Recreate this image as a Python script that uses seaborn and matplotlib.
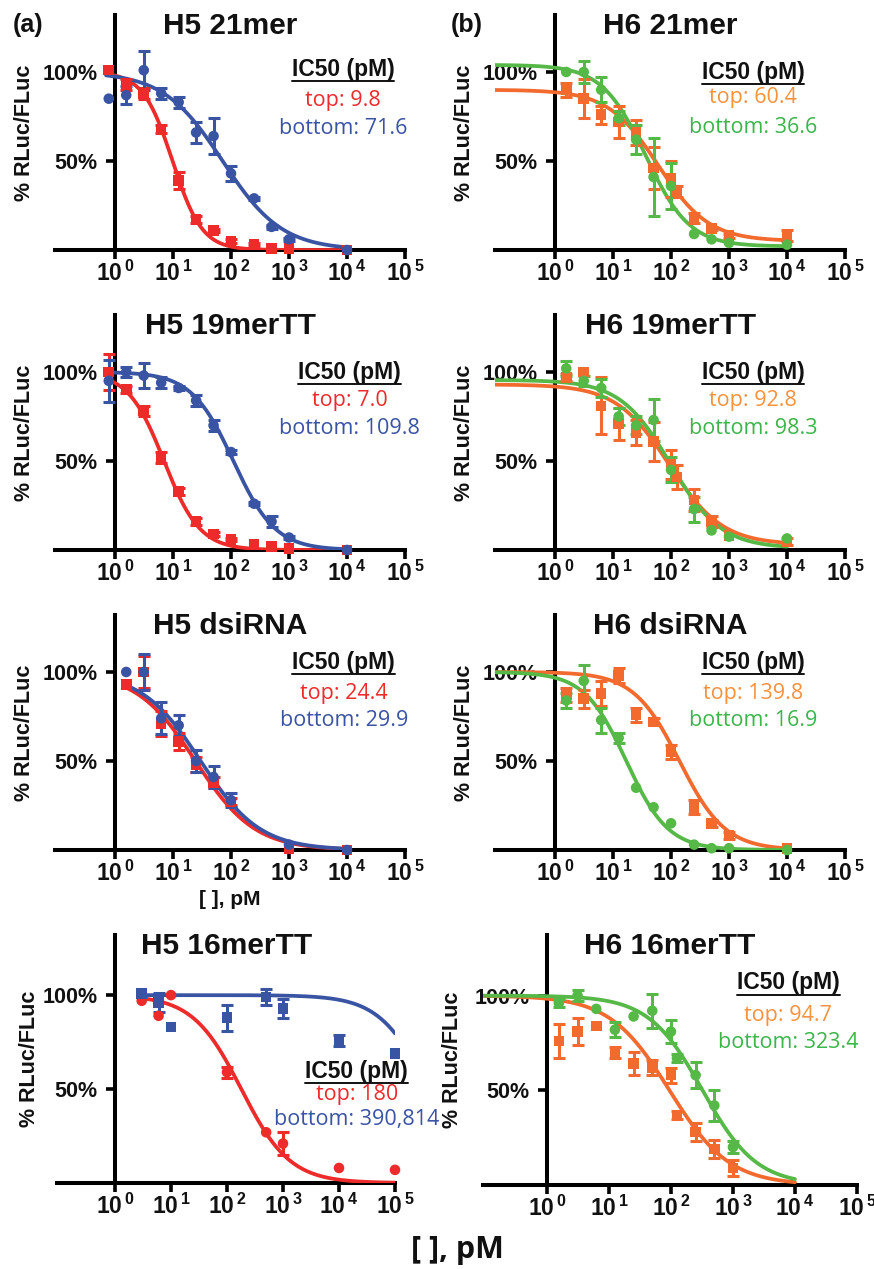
import numpy as np
import matplotlib
matplotlib.use('Agg')
import matplotlib.pyplot as plt
import seaborn as sns
from matplotlib.ticker import NullLocator

sns.set_theme(style='ticks')
plt.rcParams['font.family'] = ['Liberation Sans', 'DejaVu Sans']
plt.rcParams['mathtext.default'] = 'regular'

RED = '#ED2B2A'
BLUE = '#3A54A4'
ORANGE = '#F26A2E'
GREEN = '#55B847'
ORANGE_TXT = '#F7923D'
GREEN_TXT = '#3CB54A'
INK = '#111111'

# ---- data ----
conc_std = [0.78, 1.56, 3.125, 6.25, 12.5, 25, 50, 100, 250, 500, 1000, 10000]

# H5 21mer
h5_21_top = [101, 93, 88, 68, 39, 17, 11, 5, 3, 1, 1, 0]
h5_21_top_err = [0, 3, 3, 2, 5, 2, 1, 1, 1, 0, 0, 0]
h5_21_bot = [85, 87, 101, 88, 83, 66, 64, 43, 29, 13, 6, 0]
h5_21_bot_err = [0, 5, 11, 3, 3, 6, 10, 4, 1, 1, 1, 0]

# H5 19merTT
h5_19_top = [100, 90, 78, 52, 33, 16, 9, 6, 3, 2, 1, 0]
h5_19_top_err = [10, 2, 3, 3, 2, 2, 1, 1, 0, 0, 0, 0]
h5_19_bot = [95, 100, 98, 94, 91, 84, 70, 55, 26, 16, 7, 0]
h5_19_bot_err = [12, 3, 7, 3, 1, 3, 3, 1, 1, 3, 1, 0]

# H5 dsiRNA
conc_h5_ds = [1.56, 3.125, 6.25, 12.5, 25, 50, 100, 1000, 10000]
h5_ds_top = [93, 100, 71, 61, 48, 38, 27, 1, 0]
h5_ds_top_err = [0, 9, 7, 5, 4, 3, 2, 0, 0]
h5_ds_bot = [100, 100, 74, 70, 50, 41, 28, 3, 0]
h5_ds_bot_err = [0, 10, 9, 6, 6, 6, 4, 0, 0]

# H5 16merTT
conc_h5_16 = [3, 6, 10, 100, 500, 1000, 10000, 100000]
h5_16_top = [97, 89, 100, 59, 27, 21, 8, 7]
h5_16_top_err = [0, 0, 0, 3, 0, 6, 0, 0]
h5_16_bot = [101, 96, 83, 88, 99, 93, 76, 69]
h5_16_bot_err = [0, 5, 0, 7, 4, 5, 3, 0]

# H6 21mer
conc_h6_a = [1.56, 3.125, 6.25, 12.5, 25, 50, 100, 125, 250, 500, 1000, 10000]
conc_h6_b = [1.56, 3.125, 6.25, 12.5, 25, 50, 100, 250, 500, 1000, 10000]
h6_21_top = [90, 85, 76, 72, 66, 46, 40, 33, 18, 12, 8, 8]
h6_21_top_err = [4, 11, 5, 9, 7, 12, 10, 3, 3, 1, 1, 3]
h6_21_bot = [100, 100, 90, 74, 62, 41, 36, 9, 6, 4, 3]
h6_21_bot_err = [0, 6, 7, 4, 8, 22, 13, 0, 0, 0, 0]

# H6 19merTT
h6_19_top = [97, 100, 81, 71, 66, 61, 48, 41, 28, 16, 8, 5]
h6_19_top_err = [2, 0, 16, 9, 7, 11, 8, 7, 6, 3, 0, 2]
h6_19_bot = [102, 95, 91, 75, 70, 73, 45, 23, 11, 7.5, 6.5]
h6_19_bot_err = [4, 3, 5, 5, 5, 12, 7, 7, 0, 0, 0]

# H6 dsiRNA
h6_ds_top = [87, 85, 88, 98, 76, 72, 55, 24, 15, 8, 1]
h6_ds_top_err = [4, 5, 7, 4, 4, 2, 4, 4, 2, 2, 0]
h6_ds_bot = [84, 95, 73, 63, 35, 24, 15, 3, 1, 1, 0]
h6_ds_bot_err = [4, 9, 7, 3, 0, 0, 0, 0, 0, 0, 0]

# H6 16merTT
conc_h6_16 = [1.56, 3.125, 6.25, 12.5, 25, 50, 100, 125, 250, 500, 1000]
h6_16_top = [76, 81, 84, 70, 64, 62, 58, 37, 28, 19, 9]
h6_16_top_err = [9, 7, 0, 3, 6, 4, 4, 2, 5, 5, 4]
h6_16_bot = [96, 100, 93, 82, 89, 92, 81, 67, 58, 42, 20]
h6_16_bot_err = [2, 3, 0, 4, 0, 9, 6, 2, 7, 8, 3]

# 4-parameter fits: (top, bottom, IC50, hill)
fit_h5_21 = [(100, 0, 9.8, 1.7), (100, 0, 71.6, 0.85)]
fit_h5_19 = [(100, 0, 7.0, 1.4), (100, 0, 109.8, 1.2)]
fit_h5_ds = [(100, 0, 24.4, 0.85), (100, 0, 29.9, 0.85)]
fit_h5_16 = [(100, 0, 180, 1.0), (100, 0, 390814, 1.0)]
fit_h6_21 = [(90, 5, 60.4, 1.0), (104, 2, 36.6, 1.15)]
fit_h6_19 = [(93, 3, 92.8, 0.95), (95.5, 1, 98.3, 1.0)]
fit_h6_ds = [(100, 0, 139.8, 1.1), (100, 0, 16.9, 1.2)]
fit_h6_16 = [(100, 0, 94.7, 0.9), (100, 0, 323.4, 1.0)]

ic50_labels = {
    'H5 21mer': ('9.8', '71.6'), 'H5 19merTT': ('7.0', '109.8'),
    'H5 dsiRNA': ('24.4', '29.9'), 'H5 16merTT': ('180', '390,814'),
    'H6 21mer': ('60.4', '36.6'), 'H6 19merTT': ('92.8', '98.3'),
    'H6 dsiRNA': ('139.8', '16.9'), 'H6 16merTT': ('94.7', '323.4'),
}

fig = plt.figure(figsize=(8.74, 12.69), dpi=100)
W, H = 874, 1269


def px_axes(l, t, r, b):
    return fig.add_axes([l / W, 1 - b / H, (r - l) / W, (b - t) / H])


def four_pl(x, p):
    top, bottom, ic50, hill = p
    return bottom + (top - bottom) / (1 + (x / ic50) ** hill)


headers = []


def panel(ax, title, series, fits, crange, txt, ylab_x, xlabel=False):
    ax.set_xscale('log')
    ax.set_xlim(10 ** -1.03, 1e5)
    ax.set_ylim(0, 132)
    # curves first, then error bars and markers
    for (conc, val, err, color, marker), p in zip(series, fits):
        xs = np.logspace(np.log10(crange[0]), np.log10(crange[1]), 300)
        sns.lineplot(x=xs, y=four_pl(xs, p), color=color, lw=2.7, ax=ax,
                     sort=False, estimator=None, zorder=2)
    for conc, val, err, color, marker in series:
        c = np.array(conc, float)
        v = np.array(val, float)
        e = np.array(err, float)
        m = e > 0
        ax.errorbar(c[m], v[m], yerr=e[m], fmt='none', ecolor=color,
                    elinewidth=2.2, capsize=4.4, capthick=2.2, zorder=3,
                    clip_on=False)
        sns.scatterplot(x=c, y=v, marker=marker, s=58, color=color,
                        edgecolor='none', ax=ax, zorder=4, clip_on=False,
                        legend=False)

    for s in ['top', 'right']:
        ax.spines[s].set_visible(False)
    ax.spines['left'].set_position(('data', 1))
    for s in ['left', 'bottom']:
        ax.spines[s].set_linewidth(2.9)
        ax.spines[s].set_color('black')
        ax.spines[s].set_zorder(1)
    ax.set_xticks([1, 10, 100, 1e3, 1e4, 1e5])
    ax.set_xticklabels(['10$^{\\,%d}$' % k for k in range(6)])
    ax.xaxis.set_minor_locator(NullLocator())
    ax.set_yticks([50, 100])
    ax.set_yticklabels(['50%', '100%'])
    ax.tick_params(axis='both', direction='out', width=2.6, length=6.5,
                   labelsize=15.5, color='black', labelcolor=INK)
    ax.tick_params(axis='x', pad=1.5, labelsize=16.5)
    ax.tick_params(axis='y', pad=6)
    for lab in ax.get_xticklabels() + ax.get_yticklabels():
        lab.set_fontweight('bold')

    ax.set_ylabel('% RLuc/FLuc', fontsize=15.5, fontweight='bold', color=INK)
    ax.yaxis.set_label_coords(ylab_x, 0.5)
    if xlabel:
        ax.set_xlabel('[ ], pM', fontsize=15, fontweight='bold', color=INK)
        ax.xaxis.set_label_coords(0.5, -0.17)

    ax.text(0.5, 0.955, title, transform=ax.transAxes, ha='center',
            va='center', fontsize=21.5, fontweight='bold', color=INK)

    tx, y0, y1, y2, c1, c2 = txt
    t = ax.text(tx, y0, 'IC50 (pM)', transform=ax.transAxes, ha='center',
                va='center', fontsize=16.5, fontweight='bold', color=INK)
    headers.append((ax, t))
    top_lab, bot_lab = ic50_labels[title]
    ax.text(tx, y1, 'top: ' + top_lab, transform=ax.transAxes, ha='center',
            va='center', fontsize=15.5, color=c1, family=['Open Sans'])
    ax.text(tx, y2, 'bottom: ' + bot_lab, transform=ax.transAxes,
            ha='center', va='center', fontsize=15.5, color=c2,
            family=['Open Sans'])


rows = [(15, 250), (315, 550), (615, 850)]
axL = [px_axes(55.3, t, 405, b) for t, b in rows] + [px_axes(57.3, 935, 395, 1183)]
axR = [px_axes(495.3, t, 845, b) for t, b in rows] + [px_axes(483, 935, 857, 1185)]

panel(axL[0], 'H5 21mer',
      [(conc_std, h5_21_top, h5_21_top_err, RED, 's'),
       (conc_std, h5_21_bot, h5_21_bot_err, BLUE, 'o')],
      fit_h5_21, (0.7, 1e4), (0.823, 0.766, 0.638, 0.519, RED, BLUE), -0.058)
panel(axL[1], 'H5 19merTT',
      [(conc_std, h5_19_top, h5_19_top_err, RED, 's'),
       (conc_std, h5_19_bot, h5_19_bot_err, BLUE, 'o')],
      fit_h5_19, (0.7, 1e4), (0.842, 0.757, 0.638, 0.519, RED, BLUE), -0.058)
panel(axL[2], 'H5 dsiRNA',
      [(conc_h5_ds, h5_ds_top, h5_ds_top_err, RED, 's'),
       (conc_h5_ds, h5_ds_bot, h5_ds_bot_err, BLUE, 'o')],
      fit_h5_ds, (1.4, 1e4), (0.825, 0.796, 0.668, 0.549, RED, BLUE), -0.058,
      xlabel=True)
panel(axL[3], 'H5 16merTT',
      [(conc_h5_16, h5_16_top, h5_16_top_err, RED, 'o'),
       (conc_h5_16, h5_16_bot, h5_16_bot_err, BLUE, 's')],
      fit_h5_16, (2.9, 1e5), (0.887, 0.448, 0.355, 0.258, RED, BLUE), -0.051)

panel(axR[0], 'H6 21mer',
      [(conc_h6_a, h6_21_top, h6_21_top_err, ORANGE, 's'),
       (conc_h6_b, h6_21_bot, h6_21_bot_err, GREEN, 'o')],
      fit_h6_21, (0.093, 1e4), (0.737, 0.757, 0.647, 0.523, ORANGE_TXT, GREEN_TXT), -0.058)
panel(axR[1], 'H6 19merTT',
      [(conc_h6_a, h6_19_top, h6_19_top_err, ORANGE, 's'),
       (conc_h6_b, h6_19_bot, h6_19_bot_err, GREEN, 'o')],
      fit_h6_19, (0.093, 1e4), (0.737, 0.757, 0.638, 0.519, ORANGE_TXT, GREEN_TXT), -0.058)
panel(axR[2], 'H6 dsiRNA',
      [(conc_h6_b, h6_ds_top, h6_ds_top_err, ORANGE, 's'),
       (conc_h6_b, h6_ds_bot, h6_ds_bot_err, GREEN, 'o')],
      fit_h6_ds, (0.093, 1e4), (0.737, 0.796, 0.668, 0.553, ORANGE_TXT, GREEN_TXT), -0.058)
panel(axR[3], 'H6 16merTT',
      [(conc_h6_16, h6_16_top, h6_16_top_err, ORANGE, 's'),
       (conc_h6_16, h6_16_bot, h6_16_bot_err, GREEN, 'o')],
      fit_h6_16, (0.093, 1e4), (0.816, 0.808, 0.68, 0.568, ORANGE_TXT, GREEN_TXT), -0.053)

fig.text(28 / W, 1 - 25 / H, '(a)', ha='center', va='center', fontsize=18,
         fontweight='bold', color=INK)
fig.text(467 / W, 1 - 25 / H, '(b)', ha='center', va='center', fontsize=18,
         fontweight='bold', color=INK)
fig.text(457 / W, 1 - 1250 / H, '[ ], pM', ha='center', va='center', fontsize=22,
         fontweight='bold', color=INK, family=['Open Sans'])

# underline the IC50 headers
fig.canvas.draw()
rend = fig.canvas.get_renderer()
for ax, t in headers:
    bb = t.get_window_extent(rend).transformed(ax.transAxes.inverted())
    ax.plot([bb.x0, bb.x1], [bb.y0, bb.y0], transform=ax.transAxes,
            color=INK, lw=1.4, clip_on=False)

fig.savefig('out.png', dpi=100)
